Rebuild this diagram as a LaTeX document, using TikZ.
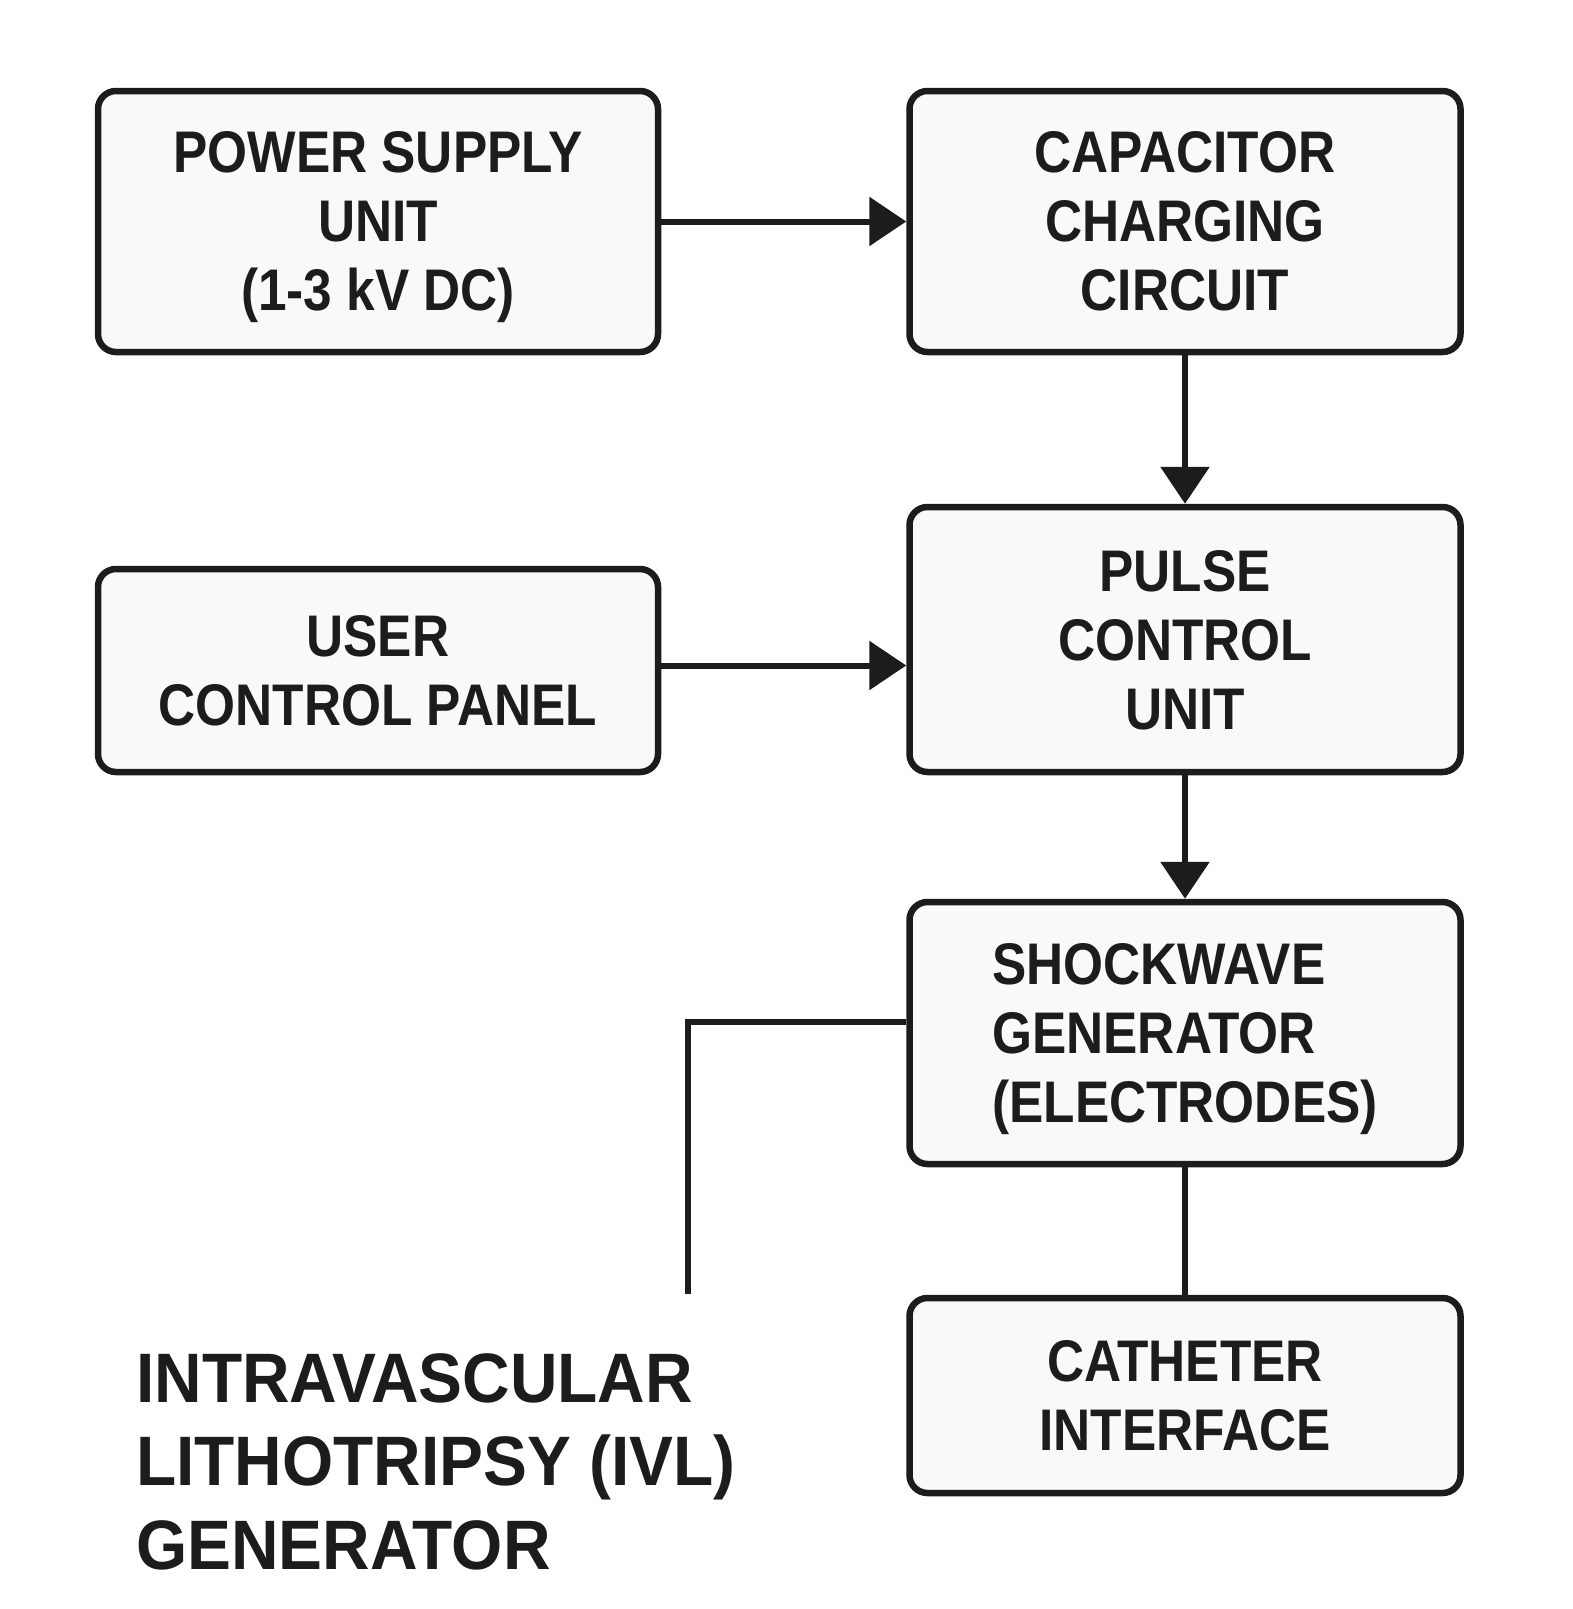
\documentclass[tikz,border=0pt]{standalone}
\usepackage{fontspec}
\newfontfamily\boxfont{Liberation Sans}[FakeStretch=0.875]
\newfontfamily\titlefont{Liberation Sans}[FakeStretch=0.94]
\usetikzlibrary{arrows.meta,calc}
\definecolor{ink}{HTML}{1C1C1C}
\definecolor{boxfill}{HTML}{F9F9F9}
\begin{document}
\begin{tikzpicture}[x=1pt,y=-1pt,
  blk/.style={draw=ink, line width=6.5pt, fill=boxfill, rounded corners=18pt,
    inner sep=0pt, align=center, text depth=0pt, text=ink,
    font={\boxfont\bfseries\fontsize{58.7pt}{69pt}\selectfont}},
  conn/.style={draw=ink, line width=6pt},
  arr/.style={conn, -{Triangle[length=37pt,width=48pt]}}]
\fill[white] (0,0) rectangle (1572,1609);
\useasboundingbox (0,0) rectangle (1572,1609);

\node[blk, minimum width=560pt, minimum height=261pt] (psu) at (378,221.5)
  {POWER SUPPLY\\UNIT\\(1-3 kV DC)};
\node[blk, minimum width=551pt, minimum height=261pt] (cap) at (1185,221.5)
  {CAPACITOR\\CHARGING\\CIRCUIT};
\node[blk, minimum width=560pt, minimum height=203pt] (user) at (378,670.5)
  {USER\\CONTROL PANEL};
\node[blk, minimum width=551pt, minimum height=265pt] (pulse) at (1185,639.5)
  {PULSE\\CONTROL\\UNIT};
\node[blk, minimum width=551pt, minimum height=262pt, align=left] (shock) at (1185,1033)
  {SHOCKWAVE\\GENERATOR\\(ELECTRODES)};
\node[blk, minimum width=551pt, minimum height=195pt] (cath) at (1185,1395.5)
  {CATHETER\\INTERFACE};

\node[anchor=north west, inner sep=0pt, align=left, text=ink,
  font={\titlefont\bfseries\fontsize{70pt}{83.5pt}\selectfont}] (title) at (136,1353)
  {INTRAVASCULAR\\LITHOTRIPSY (IVL)\\GENERATOR};

\draw[arr] (psu.east) -- (cap.west);
\draw[arr] (cap.south) -- (pulse.north);
\draw[arr] ([yshift=5pt]user.east) -- ([yshift=5pt]user.east -| pulse.west);
\draw[arr] (pulse.south) -- (shock.north);
\draw[conn] (shock.south) -- (cath.north);
\coordinate (tap) at (688,1294);
\draw[conn] ([yshift=11pt]shock.west) -| (tap);
\end{tikzpicture}
\end{document}
